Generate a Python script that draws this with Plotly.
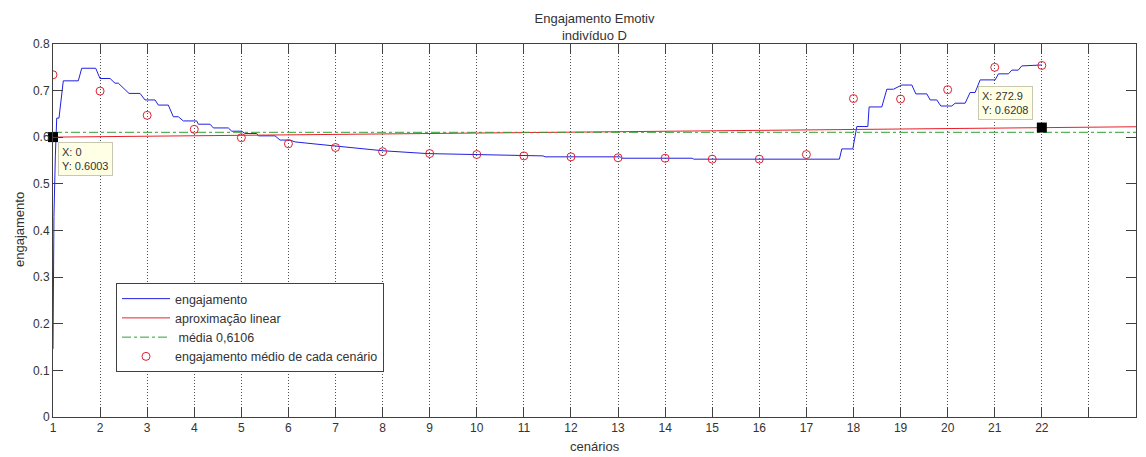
import plotly.graph_objects as go

# ---------------- data ----------------
cenarios = list(range(1, 23))
media_cenario = [0.734, 0.699, 0.647, 0.617, 0.599, 0.586, 0.578, 0.569, 0.565, 0.563,
                 0.560, 0.558, 0.556, 0.555, 0.553, 0.553, 0.563, 0.683, 0.682, 0.702,
                 0.750, 0.754]

eng_x = [1.000, 1.020, 1.050, 1.079, 1.127, 1.219, 1.537, 1.610, 1.907, 1.998,
         2.211, 2.317, 2.387, 2.614, 2.848, 2.954, 3.167, 3.237, 3.449, 3.555,
         3.661, 3.768, 4.052, 4.086, 4.335, 4.405, 4.723, 4.796, 5.008, 5.078,
         5.327, 5.361, 5.715, 5.822, 6.034, 6.140, 6.522, 7.372, 8.009, 8.944,
         10.006, 10.919, 11.408, 11.450, 13.044, 13.080, 14.573, 14.610, 17.701, 17.752,
         17.986, 18.071, 18.305, 18.332, 18.602, 18.708, 18.848, 19.027, 19.239, 19.324,
         19.558, 19.628, 19.770, 19.855, 20.088, 20.159, 20.371, 20.477, 20.583, 20.690,
         21.009, 21.079, 21.291, 21.363, 21.500, 21.575, 21.929, 22.000]
eng_y = [0.146, 0.430, 0.560, 0.641, 0.641, 0.721, 0.721, 0.748, 0.748, 0.726,
         0.726, 0.716, 0.716, 0.694, 0.694, 0.680, 0.680, 0.669, 0.669, 0.644,
         0.644, 0.635, 0.635, 0.628, 0.628, 0.620, 0.620, 0.613, 0.613, 0.608,
         0.608, 0.603, 0.603, 0.594, 0.594, 0.590, 0.586, 0.578, 0.571, 0.565,
         0.563, 0.561, 0.560, 0.558, 0.558, 0.555, 0.555, 0.553, 0.553, 0.575,
         0.575, 0.623, 0.623, 0.665, 0.665, 0.703, 0.703, 0.712, 0.712, 0.693,
         0.693, 0.680, 0.680, 0.667, 0.667, 0.673, 0.673, 0.696, 0.696, 0.723,
         0.723, 0.736, 0.736, 0.744, 0.744, 0.753, 0.754, 0.755]

lin_x = [1, 24]
lin_y = [0.6003, 0.6225]

media_x = [1, 24]
media_val = 0.6106

tip_x = [1, 22]
tip_y = [0.6003, 0.6208]
tip_text = ["X: 0<br>Y: 0.6003", "X: 272.9<br>Y: 0.6208"]

x_tick_vals = list(range(1, 25))
x_tick_text = [str(i) for i in range(1, 23)] + ["", ""]
y_tick_vals = [0, 0.1, 0.2, 0.3, 0.4, 0.5, 0.6, 0.7, 0.8]
y_tick_text = ["0", "0.1", "0.2", "0.3", "0.4", "0.5", "0.6", "0.7", "0.8"]

FONT = "Liberation Sans, Arial, sans-serif"
TXT = "#333333"

fig = go.Figure()
fig.add_trace(go.Scatter(x=eng_x, y=eng_y, mode="lines", name="engajamento",
                         line=dict(color="#2020e0", width=1)))
fig.add_trace(go.Scatter(x=lin_x, y=lin_y, mode="lines", name="aproximação linear",
                         line=dict(color="#e8202c", width=1)))
fig.add_trace(go.Scatter(x=media_x, y=[media_val] * len(media_x), mode="lines",
                         name=" média 0,6106",
                         line=dict(color="#30a030", width=1, dash="dashdot")))
fig.add_trace(go.Scatter(x=cenarios, y=media_cenario, mode="markers",
                         name="engajamento médio de cada cenário",
                         marker=dict(symbol="circle-open", size=8,
                                     color="#e02030", line=dict(width=1))))
fig.add_trace(go.Scatter(x=tip_x, y=tip_y, mode="markers", showlegend=False,
                         marker=dict(symbol="square", size=10, color="black"),
                         cliponaxis=False))

annotations = []
tip_pos = [(1.106, 0.590), (20.647, 0.710)]
for (ax_, ay_), t in zip(tip_pos, tip_text):
    annotations.append(dict(x=ax_, y=ay_, xref="x", yref="y", text=t, showarrow=False,
                            xanchor="left", yanchor="top", align="left",
                            bgcolor="#ffffe6", bordercolor="#c8c8b0", borderwidth=1,
                            borderpad=3, font=dict(family=FONT, size=11, color=TXT)))
annotations.append(dict(x=0.5, y=-(446 - 417) / 373, xref="paper", yref="paper",
                        text="cenários", showarrow=False, xanchor="center",
                        yanchor="middle", font=dict(family=FONT, size=13, color=TXT)))
annotations.append(dict(x=-(53 - 19) / 1083, y=(417 - 230) / 373, xref="paper",
                        yref="paper", text="engajamento", showarrow=False,
                        textangle=-90, xanchor="center", yanchor="middle",
                        font=dict(family=FONT, size=13, color=TXT)))

fig.update_layout(
    width=1146, height=457,
    margin=dict(l=53, r=10, t=44, b=40),
    paper_bgcolor="white", plot_bgcolor="white",
    font=dict(family=FONT, size=12, color=TXT),
    title=dict(text="Engajamento Emotiv<br>indivíduo D", x=0.5, xref="paper",
               xanchor="center", y=1 - 23 / 457, yref="container", yanchor="middle",
               font=dict(family=FONT, size=13, color=TXT)),
    showlegend=True,
    legend=dict(x=(116 - 53) / 1083, y=(417 - 283) / 373, xanchor="left", yanchor="top",
                bgcolor="white", bordercolor="#404040", borderwidth=1, itemwidth=48,
                font=dict(family=FONT, size=12.5, color=TXT)),
    annotations=annotations,
)
fig.update_xaxes(range=[1, 24], tickmode="array", tickvals=x_tick_vals,
                 ticktext=x_tick_text, ticks="inside", ticklen=10, tickcolor="#404040",
                 showline=True, linecolor="#404040", linewidth=1, mirror="ticks",
                 showgrid=True, gridcolor="#505050", griddash="1px,2px", gridwidth=1,
                 zeroline=False, tickfont=dict(family=FONT, size=12, color=TXT))
fig.update_yaxes(range=[0, 0.8], tickmode="array", tickvals=y_tick_vals,
                 ticktext=y_tick_text, ticks="inside", ticklen=10, tickcolor="#404040",
                 showline=True, linecolor="#404040", linewidth=1, mirror="ticks",
                 showgrid=False, zeroline=False,
                 tickfont=dict(family=FONT, size=12, color=TXT))

fig.write_html("out.html")
